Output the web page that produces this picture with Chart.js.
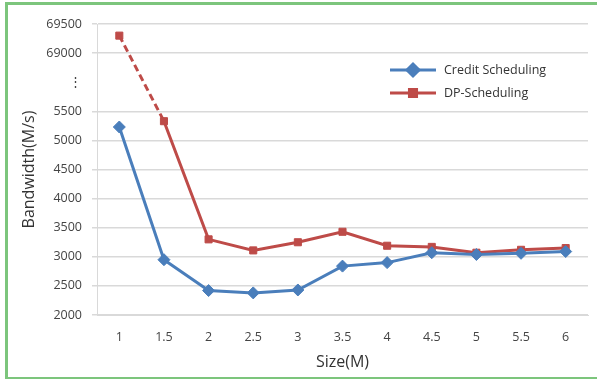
<!DOCTYPE html>
<html>
<head>
<meta charset="utf-8">
<script src="https://cdn.jsdelivr.net/npm/chart.js@4.4.1/dist/chart.umd.min.js"></script>
<style>
  html, body { margin: 0; padding: 0; background: #fff; }
  #wrap { position: relative; width: 597px; height: 379px; }
  #frame {
    position: absolute; left: 5px; top: 2px; width: 592px; height: 372px;
    border-left: 3px solid #7cc57c; border-top: 3px solid #7cc57c; border-bottom: 3px solid #7cc57c;
    box-sizing: content-box; pointer-events: none;
  }
  canvas { position: absolute; left: 0; top: 0; }
</style>
</head>
<body>
<div id="wrap">
  <canvas id="myChart" width="597" height="379"></canvas>
  <div id="frame"></div>
</div>
<script>
const sizes = ['1', '1.5', '2', '2.5', '3', '3.5', '4', '4.5', '5', '5.5', '6'];
const creditScheduling = [5230, 2950, 2420, 2380, 2430, 2840, 2900, 3070, 3040, 3060, 3090];
const dpScheduling = [69300, 5330, 3300, 3110, 3250, 3430, 3190, 3170, 3070, 3120, 3150];
const seriesNames = ['Credit Scheduling', 'DP-Scheduling'];
const seriesColors = ['#4a7ebb', '#be4b48'];

// broken axis: 2000..5500 as is, then a gap, then 69000..69500
const breakLow = 5500;
const breakHigh = 69000;
const breakTicks = ['⋮', '69000', '69500'];

function toAxis(v) {
  return v > breakLow ? v - breakHigh + breakLow + 1000 : v;
}

function tickText(v) {
  if (v <= breakLow) return String(v);
  const idx = (v - breakLow) / 500 - 1;
  return breakTicks[idx] || '';
}

const tickFont = { family: 'Open Sans', size: 12.5 };

// legend drawn inside the plot, like the original
const insideLegend = {
  id: 'insideLegend',
  afterDraw(chart) {
    const ctx = chart.ctx;
    const x0 = 390, y0 = 70, gap = 23;
    chart.data.datasets.forEach((ds, i) => {
      const y = y0 + i * gap;
      ctx.save();
      ctx.strokeStyle = ds.borderColor;
      ctx.lineWidth = 3;
      ctx.beginPath();
      ctx.moveTo(x0, y);
      ctx.lineTo(x0 + 46, y);
      ctx.stroke();
      Chart.helpers.drawPoint(ctx, {
        pointStyle: ds.pointStyle, radius: ds.pointRadius, borderWidth: 1
      }, x0 + 23, y);
      ctx.fillStyle = ds.borderColor;
      ctx.fill();
      ctx.fillStyle = '#333';
      ctx.font = '12.5px "Open Sans"';
      ctx.textBaseline = 'middle';
      ctx.fillText(ds.label, x0 + 54, y);
      ctx.restore();
    });
  }
};

const ctx = document.getElementById('myChart').getContext('2d');
new Chart(ctx, {
  type: 'line',
  data: {
    labels: sizes,
    datasets: [
      {
        label: seriesNames[0],
        data: creditScheduling.map(toAxis),
        borderColor: seriesColors[0],
        backgroundColor: seriesColors[0],
        borderWidth: 3,
        pointStyle: 'rectRot',
        pointRadius: 6,
        pointBorderWidth: 1,
        tension: 0
      },
      {
        label: seriesNames[1],
        data: dpScheduling.map(toAxis),
        borderColor: seriesColors[1],
        backgroundColor: seriesColors[1],
        borderWidth: 3,
        pointStyle: 'rect',
        pointRadius: 5,
        pointBorderWidth: 1,
        tension: 0,
        segment: {
          borderDash: c => c.p0DataIndex === 0 ? [7, 4] : undefined
        }
      }
    ]
  },
  options: {
    responsive: false,
    animation: false,
    layout: { padding: { left: 16, right: 9, top: 24, bottom: 3 } },
    scales: {
      x: {
        offset: true,
        grid: { display: false, drawTicks: false },
        border: { color: '#d9d9d9' },
        ticks: { color: '#444', font: tickFont, padding: 15, maxRotation: 0 },
        title: { display: true, text: 'Size(M)', color: '#333', font: { family: 'Open Sans', size: 16 }, padding: { top: 2 } },
        afterFit: s => { s.height = 61; }
      },
      y: {
        min: 2000,
        max: 7000,
        grid: {
          color: c => c.tick && c.tick.value === breakLow + 500 ? 'rgba(0,0,0,0)' : '#d9d9d9',
          drawTicks: true,
          tickLength: 5,
          lineWidth: 1.5
        },
        border: { color: '#d9d9d9' },
        ticks: { stepSize: 500, color: '#444', font: tickFont, padding: 10, callback: v => tickText(v) },
        title: { display: true, text: 'Bandwidth(M/s)', color: '#333', font: { family: 'Open Sans', size: 16 }, padding: { bottom: 6 } },
        afterFit: s => { s.width = 81; }
      }
    },
    plugins: {
      legend: { display: false },
      tooltip: { enabled: false }
    }
  },
  plugins: [insideLegend]
});
</script>
</body>
</html>
